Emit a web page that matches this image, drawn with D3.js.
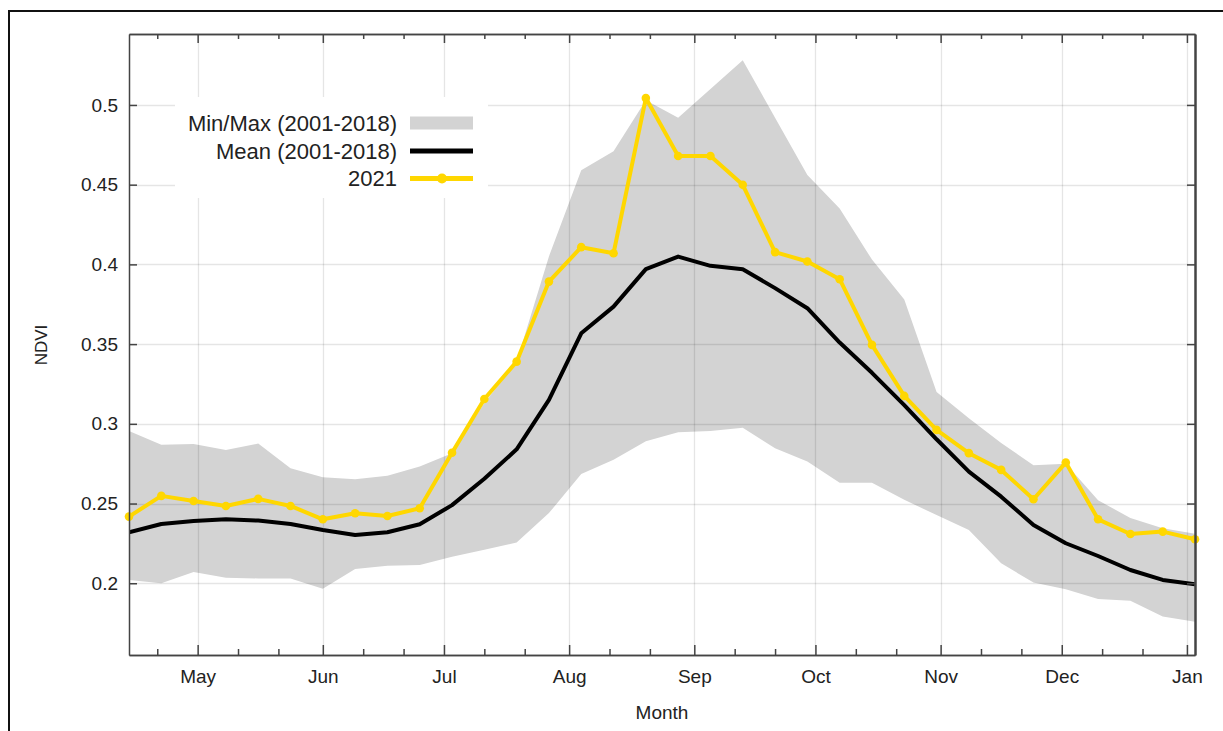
<!DOCTYPE html>
<html><head><meta charset="utf-8">
<script src="https://cdn.jsdelivr.net/npm/d3@7"></script>
<style>
body{margin:0;background:#fff;}
svg{display:block;font-family:"Liberation Sans",Arial,sans-serif;}
</style>
</head><body>
<svg id="chart" width="1223" height="731"></svg>
<script>
// ---- data ----
const dates = ["2021-04-14","2021-04-22","2021-04-30","2021-05-08","2021-05-16","2021-05-24",
  "2021-06-01","2021-06-09","2021-06-17","2021-06-25","2021-07-03","2021-07-11","2021-07-19",
  "2021-07-27","2021-08-04","2021-08-12","2021-08-20","2021-08-28","2021-09-05","2021-09-13",
  "2021-09-21","2021-09-29","2021-10-07","2021-10-15","2021-10-23","2021-10-31","2021-11-08",
  "2021-11-16","2021-11-24","2021-12-02","2021-12-10","2021-12-18","2021-12-26","2022-01-03"];
const minValues = [0.202,0.200,0.207,0.2035,0.203,0.203,0.1965,0.209,0.211,0.2115,0.2167,0.221,
  0.2255,0.244,0.2686,0.2774,0.289,0.2947,0.2955,0.2976,0.2847,0.2763,0.2631,0.2631,0.2523,
  0.2428,0.2334,0.2125,0.2004,0.1962,0.1902,0.1891,0.1791,0.1759];
const maxValues = [0.2955,0.2868,0.2873,0.2836,0.2876,0.2721,0.2665,0.2652,0.2675,0.2732,0.2816,
  0.313,0.339,0.405,0.459,0.471,0.503,0.492,0.510,0.528,0.492,0.456,0.435,0.403,0.378,0.320,
  0.3035,0.288,0.274,0.275,0.252,0.241,0.2345,0.231];
const meanValues = [0.232,0.2372,0.2391,0.2401,0.2393,0.2372,0.2334,0.2303,0.232,0.237,0.249,
  0.2655,0.284,0.315,0.3568,0.3735,0.397,0.4049,0.3991,0.397,0.3851,0.3725,0.351,0.332,0.3117,
  0.2903,0.270,0.2543,0.2366,0.2251,0.2171,0.2083,0.2021,0.1994];
const values2021 = [0.2418,0.2548,0.2516,0.2485,0.2529,0.2485,0.2401,0.2439,0.2422,0.247,0.2819,
  0.3156,0.339,0.3892,0.4108,0.407,0.5043,0.468,0.468,0.4499,0.4077,0.4018,0.3907,0.3495,0.3175,
  0.2962,0.2816,0.2711,0.2527,0.2757,0.2401,0.2309,0.2324,0.2276];
const yTicks = [0.2,0.25,0.3,0.35,0.4,0.45,0.5];
const legendLabels = ["Min/Max (2001-2018)","Mean (2001-2018)","2021"];
const xTitle = "Month", yTitle = "NDVI";

// ---- layout ----
const L = 129, R = 1195, T = 34, B = 655;
const parse = d3.utcParse("%Y-%m-%d");
const dts = dates.map(parse);
const rows = dts.map((d,i)=>({d, min:minValues[i], max:maxValues[i], mean:meanValues[i], v:values2021[i]}));

const x = d3.scaleUtc().domain([dts[0], dts[dts.length-1]]).range([L, R]);
const y = d3.scaleLinear().domain([0.155, 0.5445]).range([B, T]);

const svg = d3.select("#chart");
const axisColor = "#444", textColor = "#222";

// outer frame
svg.append("rect").attr("x",9).attr("y",11).attr("width",1400).attr("height",900)
  .attr("fill","none").attr("stroke","#111").attr("stroke-width",2);

const clipId = "plotclip";
svg.append("clipPath").attr("id",clipId).append("rect")
  .attr("x",L).attr("y",T).attr("width",R-L).attr("height",B-T);

const monthTicks = x.ticks(d3.utcMonth.every(1));
const minorTicks = d3.utcDay.range(x.domain()[0], x.domain()[1]).filter(d=>d.getUTCDate()===11||d.getUTCDate()===21);

// band
svg.append("path").datum(rows).attr("clip-path",`url(#${clipId})`)
  .attr("fill","#d3d3d3")
  .attr("d", d3.area().x(d=>x(d.d)).y0(d=>y(d.min)).y1(d=>y(d.max)));

// grid
const grid = svg.append("g").attr("stroke","rgba(0,0,0,0.1)").attr("stroke-width",1.3);
grid.selectAll(".gv").data(monthTicks).join("line")
  .attr("x1",d=>Math.round(x(d))+0.5).attr("x2",d=>Math.round(x(d))+0.5).attr("y1",T).attr("y2",B);
grid.selectAll(".gh").data(yTicks).join("line")
  .attr("y1",d=>Math.round(y(d))+0.5).attr("y2",d=>Math.round(y(d))+0.5).attr("x1",L).attr("x2",R);

// legend
const lg = svg.append("g");
lg.append("rect").attr("x",175).attr("y",97).attr("width",313).attr("height",101).attr("fill","#fff");
const rowY = [123, 151, 178.5];
lg.selectAll("text").data(legendLabels).join("text")
  .attr("x",397).attr("y",(d,i)=>rowY[i]).attr("dy","0.35em").attr("text-anchor","end")
  .attr("font-size",22).attr("fill",textColor).text(d=>d);
lg.append("rect").attr("x",410).attr("y",rowY[0]-6.5).attr("width",63).attr("height",13).attr("fill","#d3d3d3");
lg.append("line").attr("x1",410).attr("x2",473).attr("y1",rowY[1]).attr("y2",rowY[1])
  .attr("stroke","#000").attr("stroke-width",5);
lg.append("line").attr("x1",410).attr("x2",473).attr("y1",rowY[2]).attr("y2",rowY[2])
  .attr("stroke","#ffd700").attr("stroke-width",5);
lg.append("circle").attr("cx",442).attr("cy",rowY[2]).attr("r",5).attr("fill","#ffd700");

// mean line
svg.append("path").datum(rows).attr("clip-path",`url(#${clipId})`)
  .attr("fill","none").attr("stroke","#000").attr("stroke-width",4).attr("stroke-linejoin","round")
  .attr("d", d3.line().x(d=>x(d.d)).y(d=>y(d.mean)));

// 2021 line + points
svg.append("path").datum(rows)
  .attr("fill","none").attr("stroke","#ffd700").attr("stroke-width",4).attr("stroke-linejoin","round")
  .attr("d", d3.line().x(d=>x(d.d)).y(d=>y(d.v)));
svg.append("g").selectAll("circle").data(rows).join("circle")
  .attr("cx",d=>x(d.d)).attr("cy",d=>y(d.v)).attr("r",4.3).attr("fill","#ffd700");

// axes
function style(g){
  g.selectAll(".domain").attr("stroke",axisColor).attr("stroke-width",1.5);
  g.selectAll(".tick line").attr("stroke",axisColor).attr("stroke-width",1.5);
  g.selectAll(".tick text").attr("fill",textColor).attr("font-size",19)
    .attr("font-family","'Liberation Sans',Arial,sans-serif");
}
svg.append("g").attr("transform",`translate(0,${B})`)
  .call(d3.axisBottom(x).tickValues(monthTicks).tickFormat(d3.utcFormat("%b")).tickSize(-10).tickSizeOuter(0).tickPadding(15))
  .call(style);
svg.append("g").attr("transform",`translate(0,${B})`)
  .call(d3.axisBottom(x).tickValues(minorTicks).tickFormat("").tickSize(-6).tickSizeOuter(0))
  .call(style);
svg.append("g").attr("transform",`translate(0,${T})`)
  .call(d3.axisTop(x).tickValues(monthTicks).tickFormat("").tickSize(-9).tickSizeOuter(0))
  .call(style);
svg.append("g").attr("transform",`translate(0,${T})`)
  .call(d3.axisTop(x).tickValues(minorTicks).tickFormat("").tickSize(-5).tickSizeOuter(0))
  .call(style);
svg.append("g").attr("transform",`translate(${L},0)`)
  .call(d3.axisLeft(y).tickValues(yTicks).tickFormat(d3.format("")).tickSize(-8).tickSizeOuter(0).tickPadding(11))
  .call(style);
const ra = svg.append("g").attr("transform",`translate(${R},0)`)
  .call(d3.axisRight(y).tickValues(yTicks).tickFormat("").tickSize(-8).tickSizeOuter(0))
  .call(style);
ra.select(".domain").attr("stroke-width",2.5);

// titles
svg.append("text").attr("x",(L+R)/2).attr("y",712).attr("dy","0.35em").attr("text-anchor","middle")
  .attr("font-size",19).attr("fill",textColor).text(xTitle);
svg.append("text").attr("transform","translate(41,345) rotate(-90)").attr("dy","0.35em")
  .attr("text-anchor","middle").attr("font-size",17).attr("fill",textColor).text(yTitle);
</script>
</body></html>
